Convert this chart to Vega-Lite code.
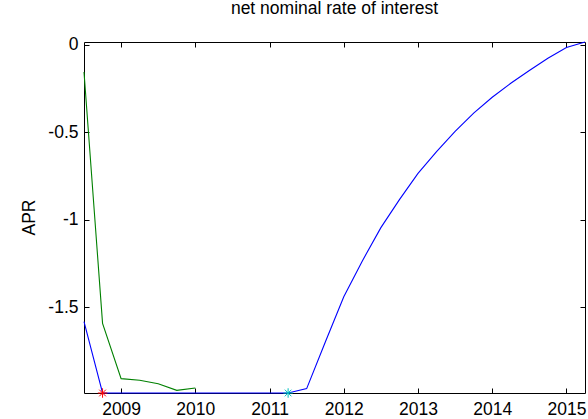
{
  "$schema": "https://vega.github.io/schema/vega-lite/v6.json",
  "width": 501,
  "height": 351,
  "autosize": {"type": "none"},
  "padding": {"left": 84, "top": 42, "right": 3, "bottom": 26},
  "background": "white",
  "title": {"text": "net nominal rate of interest", "fontSize": 17.5, "font": "Liberation Sans", "fontWeight": "normal", "offset": 18, "anchor": "middle", "color": "#000000"},
  "config": {
    "view": {"stroke": "#000000", "strokeWidth": 1},
    "axis": {"labelFont": "Liberation Sans", "titleFont": "Liberation Sans", "labelColor": "#000000", "titleColor": "#000000", "tickColor": "#000000", "grid": false, "domain": false}
  },
  "datasets": {
    "lines": [
      {"t": 2008.5, "v": -1.582, "s": "blue"},
      {"t": 2008.75, "v": -1.99, "s": "blue"},
      {"t": 2009.0, "v": -1.99, "s": "blue"},
      {"t": 2009.25, "v": -1.99, "s": "blue"},
      {"t": 2009.5, "v": -1.99, "s": "blue"},
      {"t": 2009.75, "v": -1.99, "s": "blue"},
      {"t": 2010.0, "v": -1.99, "s": "blue"},
      {"t": 2010.25, "v": -1.99, "s": "blue"},
      {"t": 2010.5, "v": -1.99, "s": "blue"},
      {"t": 2010.75, "v": -1.99, "s": "blue"},
      {"t": 2011.0, "v": -1.99, "s": "blue"},
      {"t": 2011.25, "v": -1.99, "s": "blue"},
      {"t": 2011.5, "v": -1.965, "s": "blue"},
      {"t": 2011.75, "v": -1.70, "s": "blue"},
      {"t": 2012.0, "v": -1.44, "s": "blue"},
      {"t": 2012.25, "v": -1.235, "s": "blue"},
      {"t": 2012.5, "v": -1.045, "s": "blue"},
      {"t": 2012.75, "v": -0.885, "s": "blue"},
      {"t": 2013.0, "v": -0.735, "s": "blue"},
      {"t": 2013.25, "v": -0.61, "s": "blue"},
      {"t": 2013.5, "v": -0.495, "s": "blue"},
      {"t": 2013.75, "v": -0.39, "s": "blue"},
      {"t": 2014.0, "v": -0.30, "s": "blue"},
      {"t": 2014.25, "v": -0.22, "s": "blue"},
      {"t": 2014.5, "v": -0.147, "s": "blue"},
      {"t": 2014.75, "v": -0.077, "s": "blue"},
      {"t": 2015.0, "v": -0.015, "s": "blue"},
      {"t": 2015.25, "v": 0.016, "s": "blue"},
      {"t": 2008.5, "v": -0.155, "s": "green"},
      {"t": 2008.75, "v": -1.592, "s": "green"},
      {"t": 2009.0, "v": -1.908, "s": "green"},
      {"t": 2009.25, "v": -1.917, "s": "green"},
      {"t": 2009.5, "v": -1.937, "s": "green"},
      {"t": 2009.75, "v": -1.975, "s": "green"},
      {"t": 2010.0, "v": -1.961, "s": "green"}
    ],
    "stars": [
      {"t": 2008.75, "v": -1.99, "c": "#ff0000"},
      {"t": 2011.25, "v": -1.99, "c": "#00bfbf"}
    ]
  },
  "layer": [
    {
      "layer": [
        {
          "data": {"name": "lines"},
          "mark": {"type": "line", "strokeWidth": 1.1, "clip": false},
          "encoding": {
            "x": {"field": "t", "type": "quantitative", "scale": {"domain": [2008.5, 2015.25], "nice": false, "zero": false},
                  "axis": {"orient": "bottom", "values": [2009, 2010, 2011, 2012, 2013, 2014, 2015], "labelExpr": "datum.value + ''", "tickSize": -5, "labelPadding": 12, "labelFontSize": 17.5, "title": null, "labelFlush": false}},
            "y": {"field": "v", "type": "quantitative", "scale": {"domain": [-1.99, 0.016], "nice": false, "zero": false},
                  "axis": {"orient": "left", "values": [0, -0.5, -1, -1.5], "labelExpr": "datum.value + ''", "tickSize": -5, "labelPadding": 11, "labelFontSize": 17.5, "title": "APR", "titleFontSize": 17.5, "titleFontWeight": "normal", "titleX": -46, "titleY": 175, "titleAngle": -90, "titleBaseline": "bottom", "titleAlign": "center", "labelFlush": false}},
            "color": {"field": "s", "type": "nominal", "scale": {"domain": ["blue", "green"], "range": ["#0000ff", "#008000"]}, "legend": null}
          }
        },
        {
          "data": {"name": "stars"},
          "mark": {"type": "point", "shape": "M-1,0H1M0,-1V1M-0.7,-0.7L0.7,0.7M-0.7,0.7L0.7,-0.7", "filled": false, "size": 90, "strokeWidth": 1, "opacity": 1, "clip": false},
          "encoding": {
            "x": {"field": "t", "type": "quantitative"},
            "y": {"field": "v", "type": "quantitative"},
            "stroke": {"field": "c", "type": "nominal", "scale": null, "legend": null}
          }
        }
      ]
    },
    {
      "data": {"name": "stars"},
      "mark": {"type": "point", "opacity": 0},
      "encoding": {
        "x": {"field": "t", "type": "quantitative", "scale": {"domain": [2008.5, 2015.25], "nice": false, "zero": false},
              "axis": {"orient": "top", "values": [2009, 2010, 2011, 2012, 2013, 2014, 2015], "labels": false, "tickSize": -5, "title": null}},
        "y": {"field": "v", "type": "quantitative", "scale": {"domain": [-1.99, 0.016], "nice": false, "zero": false},
              "axis": {"orient": "right", "values": [0, -0.5, -1, -1.5], "labels": false, "tickSize": -5, "title": null}}
      }
    }
  ],
  "resolve": {"scale": {"x": "independent", "y": "independent"}}
}
